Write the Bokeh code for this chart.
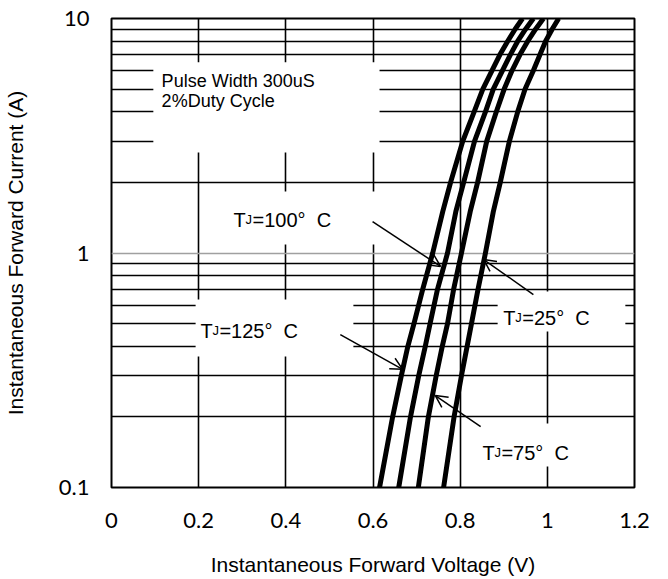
from bokeh.plotting import figure
from bokeh.models import FixedTicker, CustomJSTickFormatter, Arrow, OpenHead
from bokeh.core.properties import value
from bokeh.embed import file_html
from bokeh.resources import INLINE

# ---- data ----
current = [0.1, 0.2, 0.3, 0.4, 0.5, 0.7, 1, 1.5, 2, 3, 4, 5, 6, 7, 8, 9, 10]
v_tj125 = [0.615, 0.645, 0.665, 0.680, 0.694, 0.714, 0.737, 0.760, 0.778, 0.806, 0.832,
           0.852, 0.873, 0.891, 0.909, 0.926, 0.943]
v_tj100 = [0.659, 0.686, 0.705, 0.720, 0.731, 0.748, 0.771, 0.790, 0.808, 0.833, 0.858,
           0.876, 0.897, 0.915, 0.932, 0.950, 0.968]
v_tj75 = [0.704, 0.727, 0.745, 0.759, 0.771, 0.785, 0.803, 0.823, 0.840, 0.861, 0.883,
          0.901, 0.919, 0.937, 0.955, 0.973, 0.991]
v_tj25 = [0.762, 0.786, 0.803, 0.816, 0.826, 0.841, 0.858, 0.876, 0.892, 0.913, 0.932,
          0.949, 0.968, 0.983, 0.996, 1.011, 1.026]

x_ticks = [0, 0.2, 0.4, 0.6, 0.8, 1.0, 1.2]
y_ticks = [0.1, 1, 10]
y_minor = [0.2, 0.3, 0.4, 0.5, 0.6, 0.7, 0.8, 0.9, 2, 3, 4, 5, 6, 7, 8, 9]

ARIAL = "Liberation Sans"
TICKFONT = "Lato"

p = figure(frame_width=523, frame_height=469, x_range=(0, 1.2), y_range=(0.1, 10),
           y_axis_type="log", output_backend="svg", toolbar_location=None,
           min_border_left=103, min_border_right=26, min_border_top=18,
           min_border_bottom=60)
p.background_fill_color = "white"
p.border_fill_color = "white"
p.outline_line_color = "black"
p.outline_line_width = 2

# axes
p.xaxis.ticker = FixedTicker(ticks=x_ticks)
p.xaxis.formatter = CustomJSTickFormatter(code="return String(Math.round(tick*10)/10)")
p.yaxis.ticker = FixedTicker(ticks=y_ticks, minor_ticks=y_minor)
p.yaxis.formatter = CustomJSTickFormatter(code="return String(Number(tick.toPrecision(3)))")
for ax in (p.xaxis, p.yaxis):
    ax.axis_line_color = None
    ax.major_tick_line_color = None
    ax.minor_tick_line_color = None
    ax.major_label_text_font = TICKFONT
    ax.major_label_text_font_size = "22px"
    ax.major_label_text_color = "black"
    ax.axis_label_text_font = ARIAL
    ax.axis_label_text_font_size = "21px"
    ax.axis_label_text_font_style = "normal"
    ax.axis_label_text_color = "black"
p.xaxis.axis_label = "Instantaneous Forward Voltage (V)"
p.yaxis.axis_label = "Instantaneous Forward Current (A)"
p.xaxis.major_label_standoff = 19
p.xaxis.axis_label_standoff = 22
p.yaxis.major_label_standoff = 16
p.yaxis.axis_label_standoff = 29

# grid
p.xgrid.grid_line_color = "black"
p.xgrid.grid_line_width = 1.6
p.ygrid.grid_line_color = "#a0a0a0"
p.ygrid.grid_line_width = 1.6
p.ygrid.minor_grid_line_color = "black"
p.ygrid.minor_grid_line_width = 1.6

# white label boxes covering grid
box_left = [0.096, 0.255, 0.193, 0.886, 0.824]
box_right = [0.615, 0.613, 0.555, 1.179, 1.122]
box_top = [6.5, 1.829, 0.634, 0.685, 0.1875]
box_bottom = [2.68, 1.087, 0.362, 0.4627, 0.1229]
p.quad(left=box_left, right=box_right, top=box_top, bottom=box_bottom,
       fill_color="white", line_color=None)

# curves
for v in (v_tj125, v_tj100, v_tj75, v_tj25):
    p.line(v, current, line_color="black", line_width=5, line_join="round")

# arrows
arrows = [
    (0.525, 0.449, 0.668, 0.319),   # 125
    (0.599, 1.362, 0.755, 0.876),   # 100
    (0.968, 0.665, 0.854, 0.938),   # 25
    (0.847, 0.182, 0.743, 0.2467),  # 75
]
for xs, ys, xe, ye in arrows:
    p.add_layout(Arrow(end=OpenHead(size=12, line_width=1.5, line_color="black"),
                       x_start=xs, y_start=ys, x_end=xe, y_end=ye,
                       line_width=1.5, line_color="black"))

# texts
p.text(x=[0.115, 0.115], y=[5.44, 4.43], text=["Pulse Width 300uS", "2%Duty Cycle"],
       text_font=value(ARIAL), text_font_size="18px", text_baseline="middle",
       text_color="black")

NB = "\u00a0"


def tj_label(x, y, temp):
    common = dict(text_font=value(ARIAL), text_baseline="alphabetic", text_color="black", y_offset=7)
    p.text(x=[x], y=[y], text=["T"], text_font_size="20px", x_offset=0, **common)
    p.text(x=[x], y=[y], text=["J"], text_font_size="13px", x_offset=12, **common)
    p.text(x=[x], y=[y], text=["=" + temp + "°" + NB + NB + "C"], text_font_size="20px",
           x_offset=19, **common)


tj_label(0.280, 1.488, "100")
tj_label(0.204, 0.5003, "125")
tj_label(0.899, 0.5685, "25")
tj_label(0.851, 0.151, "75")

open("out.html", "w").write(file_html(p, INLINE))
